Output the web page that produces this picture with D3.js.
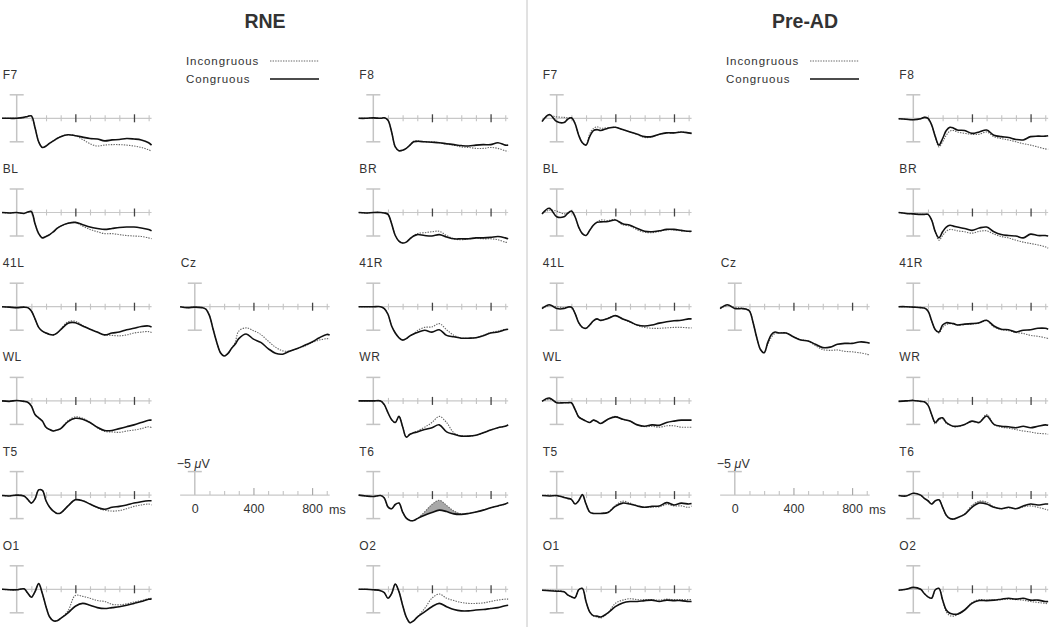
<!DOCTYPE html>
<html>
<head>
<meta charset="utf-8">
<script src="https://cdn.jsdelivr.net/npm/d3@7/dist/d3.min.js"></script>
<style>
  body { margin: 0; background: #fff; }
  svg { display: block; }
  text { font-family: "Liberation Sans", Arial, sans-serif; fill: #333; }
</style>
</head>
<body>
<svg id="chart" width="1050" height="627"></svg>
<script>
// sample times (ms) shared by every waveform
const times = [-100,-50,0,50,75,100,125,150,175,200,225,250,275,300,350,400,450,500,550,600,650,700,750,800,850,900,920];

// values in microvolts, negative up (ERP convention)
// ---- RNE ----
const rneF7Con  = [0,0,0,-0.2,-0.4,-0.5,2.0,5.0,6.2,5.9,5.3,4.8,4.3,3.9,3.5,3.7,4.0,4.3,4.4,4.8,4.6,4.5,4.3,4.4,4.6,5.2,5.7];
const rneF7Inc  = [0,0,0,-0.2,-0.4,-0.5,2.0,5.0,6.2,5.9,5.3,4.8,4.3,3.9,3.5,3.7,4.5,5.4,5.9,5.7,5.6,5.6,5.7,5.9,6.2,6.7,7.0];
const rneBLCon  = [0,0.1,0,0.2,-0.1,-0.2,2.4,4.5,5.4,5.1,4.7,4.1,3.4,2.9,2.3,2.1,2.6,3.1,3.4,3.6,3.4,3.2,3.1,3.1,3.3,3.6,3.9];
const rneBLInc  = [0,0.1,0,0.2,-0.1,-0.2,2.4,4.5,5.4,5.1,4.7,4.1,3.4,2.9,2.3,2.1,2.9,3.6,4.1,4.5,4.5,4.7,4.9,5.0,5.1,5.4,5.6];
const rne41LCon = [0,0.1,0.2,0.1,0.2,0.9,2.6,4.4,5.2,5.6,5.9,6.0,5.6,4.9,3.5,3.4,4.1,4.8,5.4,6.0,5.6,5.4,4.9,4.6,4.2,4.1,4.3];
const rne41LInc = [0,0.1,0.2,0.1,0.2,0.9,2.6,4.4,5.2,5.6,5.9,6.0,5.6,4.8,3.2,3.1,4.0,4.8,5.5,6.0,6.1,6.2,6.0,5.6,5.4,5.3,5.5];
const rneWLCon  = [0,0.1,-0.1,0.1,0.3,1.1,2.9,3.6,4.3,5.6,6.1,6.4,6.2,5.9,4.4,3.7,3.9,4.6,5.6,6.3,6.3,5.9,5.5,5.1,4.6,4.1,4.1];
const rneWLInc  = [0,0.1,-0.1,0.1,0.3,1.1,2.9,3.6,4.3,5.6,6.1,6.4,6.2,5.9,4.2,3.4,3.7,4.6,5.7,6.5,6.6,6.7,6.4,6.2,5.9,5.5,5.7];
const rneT5Con  = [0.1,0.2,0,0.2,0.9,1.7,0.8,-1.1,-1.0,1.2,2.6,3.4,3.9,3.8,2.3,1.0,1.2,1.9,2.6,3.0,2.6,2.4,2.1,1.7,1.4,1.2,1.2];
const rneT5Inc  = [0.1,0.2,0,0.2,0.9,1.7,0.8,-1.1,-1.0,1.2,2.6,3.4,3.9,3.8,2.3,1.0,1.2,1.9,2.7,3.2,3.4,3.3,2.9,2.4,2.1,1.9,2.1];
const rneO1Con  = [0,0.1,0.1,-0.1,0.8,1.7,0.5,-1.2,0.9,3.7,5.9,6.7,6.7,6.2,5.0,3.6,3.0,3.4,3.9,4.1,3.9,3.7,3.4,3.0,2.6,2.1,2.1];
const rneO1Inc  = [0,0.1,0.1,-0.1,0.8,1.7,0.5,-1.2,0.9,3.7,5.9,6.7,6.7,6.2,4.6,1.3,1.5,1.9,2.4,2.6,3.2,3.3,3.1,2.7,2.4,2.0,1.9];
const rneCzCon  = [0,0.2,0.1,0.2,0.5,1.9,4.8,7.6,9.8,10.5,10.0,8.9,8.0,6.8,5.8,6.9,7.6,8.9,9.9,10.1,9.4,8.9,8.2,7.5,6.6,5.9,6.0];
const rneCzInc  = [0,0.2,0.1,0.2,0.5,1.9,4.8,7.6,9.8,10.5,10.0,8.9,7.6,5.2,4.5,5.1,5.9,7.3,8.6,9.4,9.4,8.9,8.4,7.6,7.1,6.8,6.9];
const rneF8Con  = [0,0,-0.1,0,-0.1,0.4,2.9,6.1,6.9,6.8,6.4,5.7,5.0,4.9,5.0,5.1,5.2,5.4,5.6,5.8,5.9,5.7,5.6,5.6,5.2,5.7,5.7];
const rneF8Inc  = [0,0,-0.1,0,-0.1,0.4,2.9,6.1,6.9,6.8,6.4,5.7,4.9,4.8,5.0,5.0,5.2,5.5,5.7,6.1,6.2,6.4,6.4,6.2,6.4,6.9,7.0];
const rneBRCon  = [0,0.1,0,0,0.1,0.4,2.4,4.9,6.1,6.5,6.3,5.6,5.0,4.7,4.9,5.0,4.7,5.2,5.6,5.6,5.6,5.4,5.4,5.3,5.1,5.4,5.6];
const rneBRInc  = [0,0.1,0,0,0.1,0.4,2.4,4.9,6.1,6.5,6.3,5.6,5.0,4.5,4.3,4.1,4.0,4.9,5.6,5.8,5.6,5.4,5.6,5.6,5.8,6.3,6.4];
const rne41RCon = [0,0,0,0,0.4,1.6,4.1,5.6,6.6,7.1,6.8,6.2,5.8,5.5,5.0,5.4,4.9,6.1,6.4,6.7,6.7,6.6,6.2,5.6,5.4,4.9,4.8];
const rne41RInc = [0,0,0,0,0.4,1.6,4.1,5.6,6.6,7.1,6.8,6.2,5.8,5.1,4.4,4.3,3.6,4.9,6.1,6.7,6.7,6.6,6.1,5.5,5.2,4.8,4.9];
const rneWRCon  = [0,0,0,0,0.8,2.5,4.0,4.6,3.3,5.5,7.7,7.1,6.8,6.6,6.1,5.7,5.1,6.6,7.1,7.5,7.5,7.3,6.8,6.2,5.7,5.4,5.1];
const rneWRInc  = [0,0,0,0,0.8,2.5,4.0,4.6,3.3,5.5,7.7,7.1,6.7,6.4,5.6,4.6,3.3,4.6,6.8,7.4,7.5,7.3,6.8,6.2,5.7,5.4,5.1];
const rneT6Con  = [0,0.2,0.3,0.1,0.6,2.5,2.9,2.0,1.7,3.6,4.9,5.4,5.4,5.0,4.3,3.7,3.2,3.5,4.0,4.1,3.9,3.6,3.2,2.7,2.3,1.9,1.6];
const rneT6Inc  = [0,0.2,0.3,0.1,0.6,2.5,2.9,2.0,1.7,3.6,4.9,5.4,5.4,5.0,3.6,2.0,1.1,2.2,3.4,4.0,3.9,3.6,3.2,2.7,2.3,1.9,1.6];
const rneO2Con  = [0,0,0.1,0.3,0.7,1.9,0.9,-1.1,0.5,3.4,5.9,7.1,6.7,5.9,4.8,3.7,3.0,3.7,4.3,4.6,4.6,4.4,4.3,4.1,3.9,3.5,3.4];
const rneO2Inc  = [0,0,0.1,0.3,0.7,1.9,0.9,-1.1,0.5,3.4,5.9,7.1,6.7,5.9,4.1,1.9,1.0,1.9,2.4,2.8,3.0,3.0,2.9,2.6,2.3,2.1,2.1];

// ---- Pre-AD ----
const preF7Con  = [0.7,-0.8,0.7,0.9,0.2,-0.1,1.1,3.6,5.2,5.7,3.9,2.6,2.4,2.6,2.1,1.9,2.4,2.9,3.4,3.9,3.9,3.4,3.1,3.1,2.9,3.1,3.2];
const preF7Inc  = [0.5,-0.6,-0.3,-0.2,-0.1,-0.1,1.1,3.6,5.2,5.7,3.3,2.2,1.8,2.1,2.0,1.9,2.4,2.9,3.4,4.1,3.9,3.4,3.1,3.1,2.9,3.1,3.2];
const preBLCon  = [0.3,-0.9,0.9,0.9,0.2,-0.3,0.9,3.1,4.5,4.9,3.8,2.7,2.1,2.0,1.9,1.6,2.4,2.7,3.4,4.0,4.1,3.9,3.6,3.6,3.8,4.0,4.0];
const preBLInc  = [0.2,-0.5,-0.3,0.3,0.1,-0.3,0.9,3.1,4.5,4.9,3.8,2.7,2.0,1.6,1.7,1.5,2.6,2.9,3.7,4.2,4.3,4.0,3.7,3.7,3.9,4.0,4.1];
const pre41LCon = [0.4,-0.4,0.4,0.4,0.1,0.1,1.4,3.4,4.4,4.6,3.9,3.0,2.6,2.9,2.5,1.9,2.6,3.2,3.9,4.1,3.9,3.5,3.2,3.0,2.9,2.6,2.6];
const pre41LInc = [0.3,-0.2,0.0,0.2,0.1,0.1,1.4,3.4,4.4,4.6,3.9,3.0,2.6,2.9,2.4,1.9,2.6,3.3,4.0,4.4,4.6,4.6,4.5,4.4,4.4,4.5,4.5];
const preWLCon  = [0.1,-0.6,0.4,0.4,0.4,0.4,1.8,3.4,3.9,4.3,4.6,4.1,4.4,4.8,3.9,3.4,3.9,4.3,5.1,5.4,5.1,5.2,4.6,4.3,4.1,4.1,4.1];
const preWLInc  = [0.0,-0.3,0.2,0.4,0.4,0.4,1.8,3.4,3.9,4.3,4.6,4.1,4.4,4.8,3.9,3.3,3.9,4.3,5.1,5.5,5.4,5.6,5.3,5.3,5.6,5.6,5.6];
const preT5Con  = [0.1,0.2,0.1,0.5,0.7,0.9,1.9,1.2,-0.1,1.9,3.6,3.9,3.9,3.9,3.7,2.4,1.7,1.9,2.3,2.6,2.4,2.3,1.6,2.1,1.7,1.9,1.8];
const preT5Inc  = [0.1,0.0,0.2,0.4,0.7,0.9,1.9,1.2,-0.1,1.9,3.6,3.9,3.9,3.9,3.6,2.2,1.3,1.7,2.3,2.6,2.5,2.5,2.0,2.3,2.3,2.6,2.3];
const preO1Con  = [0.2,0.3,0.4,0.5,1.2,1.6,1.8,0.1,-0.2,2.6,4.8,5.6,5.7,5.9,5.0,3.7,2.9,2.6,2.6,2.4,2.3,2.6,2.3,2.4,2.4,2.6,2.6];
const preO1Inc  = [0.2,0.2,0.3,0.5,1.2,1.6,1.8,0.1,-0.2,2.6,4.8,5.7,5.9,6.1,5.0,3.0,2.3,2.0,2.2,2.2,2.2,2.3,2.1,2.2,2.2,2.2,2.2];
const preCzCon  = [0.4,-0.4,0.4,0.4,0.5,0.9,3.4,6.6,9.1,9.8,7.6,5.9,5.4,5.6,5.6,6.4,7.1,7.3,8.0,8.7,8.6,8.0,7.8,7.8,7.5,7.6,7.8];
const preCzInc  = [0.3,-0.2,0.1,0.3,0.5,0.9,3.4,6.6,9.1,9.8,8.0,6.5,5.7,5.5,5.6,6.4,7.0,7.3,8.3,9.1,9.3,9.2,9.5,9.6,9.8,10.1,10.3];
const preF8Con  = [0.1,0.2,0.3,0.1,-0.2,0,1.4,3.9,5.7,4.3,2.6,1.9,2.1,2.5,2.6,3.2,2.9,2.5,3.6,3.9,4.1,4.5,4.6,3.9,3.8,3.8,3.7];
const preF8Inc  = [0.1,0.2,0.3,0.1,-0.2,0,1.4,3.9,6.1,5.0,3.6,2.7,2.6,2.9,3.2,3.4,3.4,2.9,3.9,4.3,4.6,5.0,5.4,5.7,6.1,6.5,6.6];
const preBRCon  = [0,0.2,0.3,0.4,0.4,0.4,1.6,4.1,5.4,4.1,3.1,2.7,2.9,3.1,3.4,3.8,3.3,3.1,4.1,4.7,4.9,5.0,5.4,4.6,4.9,4.9,5.0];
const preBRInc  = [0,0.2,0.3,0.4,0.4,0.4,1.6,4.1,5.9,4.9,4.0,3.6,3.7,3.9,4.1,4.4,4.0,3.9,4.6,5.1,5.4,5.9,6.3,6.6,6.9,7.3,7.6];
const pre41RCon = [0,0,0.1,0.2,0.3,0.9,3.0,4.9,5.4,3.9,3.4,3.5,3.6,3.9,3.7,3.6,3.4,2.9,4.1,4.8,4.9,5.4,5.0,4.9,4.6,4.6,4.8];
const pre41RInc = [0,0,0.1,0.2,0.3,0.9,3.0,4.9,5.6,4.4,3.8,3.6,3.7,3.9,3.8,3.7,3.5,3.0,4.3,4.9,5.1,5.5,5.7,6.1,6.3,6.6,6.8];
const preWRCon  = [0.1,0,-0.1,0.1,0.2,0.9,2.9,4.6,3.8,3.6,4.6,5.1,5.4,5.4,5.0,4.3,4.6,3.2,5.0,5.4,5.5,5.7,5.4,5.7,5.4,5.1,5.2];
const preWRInc  = [0.1,0,-0.1,0.1,0.2,0.9,2.9,4.9,4.0,3.8,4.8,5.2,5.5,5.5,5.1,4.4,4.6,2.9,5.0,5.6,5.8,6.1,6.4,6.6,6.9,7.0,7.1];
const preT6Con  = [0.1,0.2,-0.4,0,0.7,1.2,1.9,1.2,1.0,2.6,4.3,5.0,5.1,4.8,4.1,2.6,1.7,1.9,2.6,2.9,2.6,2.9,2.3,1.9,2.1,1.9,1.9];
const preT6Inc  = [0.1,0.2,-0.4,0,0.7,1.2,1.9,1.2,1.0,2.6,4.3,5.0,5.1,4.8,4.0,2.2,1.3,1.5,2.5,2.9,2.7,2.9,2.5,2.3,2.6,3.0,3.2];
const preO2Con  = [0.2,0,-0.4,0,0.9,1.6,1.9,0.1,-0.2,2.3,4.4,5.1,5.3,5.3,4.4,3.0,2.4,2.4,2.3,2.1,1.9,2.1,1.9,2.3,2.3,2.6,2.6];
const preO2Inc  = [0.2,0,-0.4,0,0.9,1.6,1.9,0.1,-0.2,2.3,4.8,5.6,5.7,5.4,4.4,2.8,2.2,2.3,2.3,2.2,2.1,2.2,2.3,2.6,2.8,3.0,3.1];

const leftChannels  = ['F7','BL','41L','WL','T5','O1'];
const rightChannels = ['F8','BR','41R','WR','T6','O2'];
const minorTicks = [100,200,300,500,600,700,900];
const majorTicks = [400,800];
const scaleLabels = [0,400,800];

const groups = [
  { title: 'RNE', dx: 0, shade: { T6: [300, 600] },
    waves: { F7:[rneF7Con,rneF7Inc], BL:[rneBLCon,rneBLInc], '41L':[rne41LCon,rne41LInc], WL:[rneWLCon,rneWLInc],
             T5:[rneT5Con,rneT5Inc], O1:[rneO1Con,rneO1Inc], Cz:[rneCzCon,rneCzInc],
             F8:[rneF8Con,rneF8Inc], BR:[rneBRCon,rneBRInc], '41R':[rne41RCon,rne41RInc], WR:[rneWRCon,rneWRInc],
             T6:[rneT6Con,rneT6Inc], O2:[rneO2Con,rneO2Inc] } },
  { title: 'Pre-AD', dx: 540, shade: { T6: [380, 520] },
    waves: { F7:[preF7Con,preF7Inc], BL:[preBLCon,preBLInc], '41L':[pre41LCon,pre41LInc], WL:[preWLCon,preWLInc],
             T5:[preT5Con,preT5Inc], O1:[preO1Con,preO1Inc], Cz:[preCzCon,preCzInc],
             F8:[preF8Con,preF8Inc], BR:[preBRCon,preBRInc], '41R':[pre41RCon,pre41RInc], WR:[preWRCon,preWRInc],
             T6:[preT6Con,preT6Inc], O2:[preO2Con,preO2Inc] } }
];

const svg = d3.select('#chart');
const colX = [16.7, 194.8, 373.3];
const rowY = d => 118.3 + d * 94.2;
const pxPerMs = 0.1466;
const halfBar = 23.5;
const smooth = d3.curveCatmullRom.alpha(0.5);

function makeScales(bx, ay) {
  const x = d3.scaleLinear().domain([-100, 920]).range([bx - 100 * pxPerMs, bx + 920 * pxPerMs]);
  const y = d3.scaleLinear().domain([-5, 5]).range([ay - halfBar, ay + halfBar]);
  return { x, y };
}

function drawPanel(g, bx, ay, name, con, inc, shade) {
  const { x, y } = makeScales(bx, ay);
  const p = g.append('g');

  p.append('text').attr('x', bx - 14).attr('y', ay - 39.5)
    .attr('font-size', 12).attr('letter-spacing', 0.6).text(name);

  // horizontal axis line
  p.append('line').attr('x1', x(-100)).attr('x2', x(920)).attr('y1', ay).attr('y2', ay)
    .attr('stroke', '#c8c8c8').attr('stroke-width', 1.2);

  const minor = p.append('g').attr('transform', `translate(0,${ay - 3})`)
    .call(d3.axisBottom(x).tickValues(minorTicks).tickSize(6).tickFormat(''));
  minor.select('.domain').remove();
  minor.selectAll('line').attr('stroke', '#c4c4c4').attr('stroke-width', 1.1);

  const major = p.append('g').attr('transform', `translate(0,${ay - 4})`)
    .call(d3.axisBottom(x).tickValues(majorTicks).tickSize(8).tickFormat(''));
  major.select('.domain').remove();
  major.selectAll('line').attr('stroke', '#444').attr('stroke-width', 1.3);

  // -5 / +5 uV bar at stimulus onset
  const bar = p.append('g').attr('stroke', '#c4c4c4').attr('stroke-width', 1.5);
  bar.append('line').attr('x1', x(0)).attr('x2', x(0)).attr('y1', y(-5)).attr('y2', y(5));
  [-5, 5].forEach(v => bar.append('line').attr('x1', x(0) - 7).attr('x2', x(0) + 7).attr('y1', y(v)).attr('y2', y(v)));

  const pts = (arr) => times.map((t, i) => [t, arr[i]]);

  if (shade) {
    const idx = times.map((t, i) => i).filter(i => times[i] >= shade[0] && times[i] <= shade[1]);
    const area = d3.area().x(i => x(times[i])).y0(i => y(con[i])).y1(i => y(inc[i])).curve(smooth);
    p.append('path').attr('d', area(idx)).attr('fill', '#a8a8a8').attr('stroke', 'none');
  }

  const line = d3.line().x(d => x(d[0])).y(d => y(d[1])).curve(smooth);
  p.append('path').attr('d', line(pts(inc))).attr('fill', 'none')
    .attr('stroke', '#666').attr('stroke-width', 1.1).attr('stroke-dasharray', '1.4,1.2');
  p.append('path').attr('d', line(pts(con))).attr('fill', 'none')
    .attr('stroke', '#111').attr('stroke-width', 1.6);
}

function drawScale(g, bx, ay) {
  const { x, y } = makeScales(bx, ay);
  const p = g.append('g');
  p.append('line').attr('x1', x(-100)).attr('x2', x(920)).attr('y1', ay).attr('y2', ay)
    .attr('stroke', '#c8c8c8').attr('stroke-width', 1.2);

  const minor = p.append('g').attr('transform', `translate(0,${ay})`)
    .call(d3.axisTop(x).tickValues(minorTicks).tickSize(4).tickFormat(''));
  minor.select('.domain').remove();
  minor.selectAll('line').attr('stroke', '#c4c4c4').attr('stroke-width', 1.1);

  const major = p.append('g').attr('transform', `translate(0,${ay})`)
    .call(d3.axisTop(x).tickValues(majorTicks).tickSize(7).tickFormat(''));
  major.select('.domain').remove();
  major.selectAll('line').attr('stroke', '#aaa').attr('stroke-width', 1.2);

  const labels = p.append('g').attr('transform', `translate(0,${ay})`)
    .call(d3.axisBottom(x).tickValues(scaleLabels).tickSize(0).tickPadding(9).tickFormat(d3.format('d')));
  labels.select('.domain').remove();
  labels.selectAll('text').attr('font-size', 12.5).attr('fill', '#333')
    .attr('font-family', '"Liberation Sans", Arial, sans-serif');

  const bar = p.append('g').attr('stroke', '#c4c4c4').attr('stroke-width', 1.5);
  bar.append('line').attr('x1', x(0)).attr('x2', x(0)).attr('y1', y(-5)).attr('y2', y(0));
  bar.append('line').attr('x1', x(0) - 7).attr('x2', x(0) + 7).attr('y1', y(-5)).attr('y2', y(-5));

  const lab = p.append('text').attr('x', x(0) - 18).attr('y', y(-5) - 4).attr('font-size', 12.5);
  lab.append('tspan').text('\u22125 ');
  lab.append('tspan').attr('font-style', 'italic').text('\u03bc');
  lab.append('tspan').text('V');

  p.append('text').attr('x', x(800) + 17).attr('y', ay + 19).attr('font-size', 12.5).text('ms');
}

// divider between the two groups
svg.append('line').attr('x1', 527).attr('x2', 527).attr('y1', 0).attr('y2', 627)
  .attr('stroke', '#c4c4c4').attr('stroke-width', 1);

groups.forEach(grp => {
  const g = svg.append('g').attr('transform', `translate(${grp.dx},0)`);

  g.append('text').attr('x', 265).attr('y', 28).attr('text-anchor', 'middle')
    .attr('font-size', 19.5).attr('font-weight', 'bold').attr('fill', '#111').text(grp.title);

  // legend
  const leg = g.append('g');
  leg.append('text').attr('x', 186).attr('y', 65).attr('font-size', 11.5).attr('letter-spacing', 0.9).text('Incongruous');
  leg.append('text').attr('x', 186).attr('y', 83).attr('font-size', 11.5).attr('letter-spacing', 0.9).text('Congruous');
  leg.append('line').attr('x1', 270).attr('x2', 319).attr('y1', 61).attr('y2', 61)
    .attr('stroke', '#666').attr('stroke-width', 1.1).attr('stroke-dasharray', '1.4,1.2');
  leg.append('line').attr('x1', 270).attr('x2', 319).attr('y1', 79).attr('y2', 79)
    .attr('stroke', '#111').attr('stroke-width', 1.6);

  leftChannels.forEach((ch, r) => {
    const [c, i] = grp.waves[ch];
    drawPanel(g, colX[0], rowY(r), ch, c, i, grp.shade[ch]);
  });
  rightChannels.forEach((ch, r) => {
    const [c, i] = grp.waves[ch];
    drawPanel(g, colX[2], rowY(r), ch, c, i, grp.shade[ch]);
  });
  const [cz, czi] = grp.waves.Cz;
  drawPanel(g, colX[1], rowY(2), 'Cz', cz, czi, null);
  drawScale(g, colX[1], rowY(4));
});
</script>
</body>
</html>
